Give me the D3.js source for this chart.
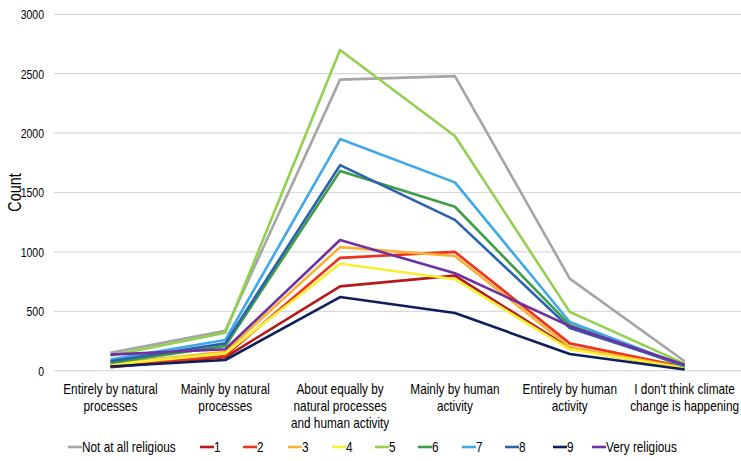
<!DOCTYPE html>
<html>
<head>
<meta charset="utf-8">
<script src="https://cdn.jsdelivr.net/npm/d3@7"></script>
<style>
  html, body { margin: 0; padding: 0; background: #fff; }
  svg { display: block; }
  text { font-family: "Liberation Sans", Arial, sans-serif; fill: #000; }
</style>
</head>
<body>
<svg id="chart" width="741" height="461"></svg>
<script>
const categories = [
  "Entirely by natural\nprocesses",
  "Mainly by natural\nprocesses",
  "About equally by\nnatural processes\nand human activity",
  "Mainly by human\nactivity",
  "Entirely by human\nactivity",
  "I don't think climate\nchange is happening"
];
const seriesNames = ["Not at all religious", "1", "2", "3", "4", "5", "6", "7", "8", "9", "Very religious"];
const seriesColors = ["#A5A5A5", "#B31B1B", "#F2301E", "#F9B233", "#F8F032", "#92D050", "#3E9E45", "#3FA9E8", "#2B62B0", "#0C1F5C", "#7030A0"];
const notAtAll   = [150, 337, 2450, 2480, 775, 80];
const rel1       = [30, 113, 710, 800, 190, 15];
const rel2       = [35, 126, 950, 1000, 230, 30];
const rel3       = [55, 160, 1040, 965, 200, 25];
const rel4       = [50, 146, 900, 770, 180, 20];
const rel5       = [125, 320, 2700, 1975, 495, 60];
const rel6       = [65, 208, 1680, 1380, 385, 35];
const rel7       = [95, 258, 1950, 1585, 410, 40];
const rel8       = [80, 230, 1730, 1270, 360, 45];
const rel9       = [35, 90, 620, 485, 140, 10];
const veryRel    = [135, 180, 1100, 820, 375, 50];
const yTicks = [0, 500, 1000, 1500, 2000, 2500, 3000];
const yTitle = "Count";

const seriesValues = [notAtAll, rel1, rel2, rel3, rel4, rel5, rel6, rel7, rel8, rel9, veryRel];
const NARROW = 0.82;

const svg = d3.select("#chart");
const x = d3.scaleBand().domain(categories).range([53, 742]).padding(0);
const cx = c => x(c) + x.bandwidth() / 2;
const y = d3.scaleLinear().domain([0, 3000]).range([370.7, 14.3]);

// gridlines
svg.append("g").selectAll("line").data(yTicks).join("line")
  .attr("x1", 54).attr("x2", 741)
  .attr("y1", d => y(d)).attr("y2", d => y(d))
  .attr("stroke", "#D9D9D9").attr("stroke-width", 1.2);

// y axis labels
const yAxis = d3.axisLeft(y).tickValues(yTicks).tickFormat(d3.format("d")).tickSize(0).tickPadding(0);
const gy = svg.append("g").attr("transform", "translate(44,0)").call(yAxis);
gy.select(".domain").remove();
gy.selectAll("text")
  .attr("x", 0)
  .attr("transform", `scale(${NARROW},1)`)
  .style("font-size", "12.8px")
  .style("font-family", '"Liberation Sans", Arial, sans-serif')
  .attr("fill", "#000").attr("dy", "0.35em");

// y title
svg.append("text")
  .attr("transform", `translate(21,${y(1500)}) rotate(-90) scale(${NARROW},1)`)
  .attr("text-anchor", "middle")
  .style("font-size", "17.5px")
  .text(yTitle);

// category labels
const xl = svg.append("g");
categories.forEach(c => {
  const t = xl.append("text")
    .attr("transform", `translate(${cx(c)},393.5) scale(${NARROW},1)`)
    .attr("text-anchor", "middle").style("font-size", "14.4px");
  c.split("\n").forEach((ln, i) => {
    t.append("tspan").attr("x", 0).attr("y", i * 17.2).text(ln);
  });
});

// lines
const line = d3.line().x((d, i) => cx(categories[i])).y(d => y(d));
svg.append("g").selectAll("path").data(seriesValues).join("path")
  .attr("d", d => line(d))
  .attr("fill", "none")
  .attr("stroke", (d, i) => seriesColors[i])
  .attr("stroke-width", 2.6)
  .attr("stroke-linejoin", "round");

// legend
const legendX = [68, 200, 243, 288, 332, 375, 418, 462, 505, 553, 592];
const lg = svg.append("g");
seriesNames.forEach((n, i) => {
  lg.append("line")
    .attr("x1", legendX[i]).attr("x2", legendX[i] + 14)
    .attr("y1", 447).attr("y2", 447)
    .attr("stroke", seriesColors[i]).attr("stroke-width", 2.6);
  lg.append("text")
    .attr("transform", `translate(${legendX[i] + 14},452) scale(${NARROW},1)`)
    .style("font-size", "14.4px")
    .text(n);
});
</script>
</body>
</html>
